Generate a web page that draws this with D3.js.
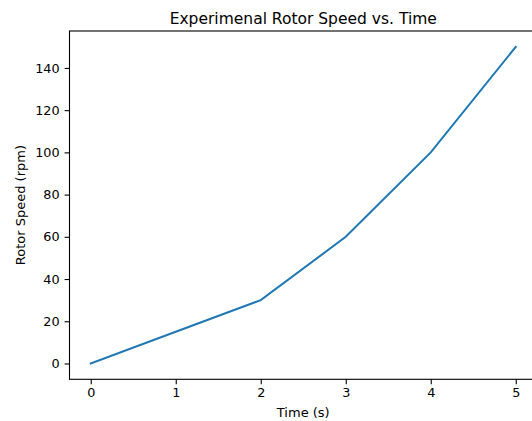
<!DOCTYPE html>
<html><head><meta charset="utf-8">
<script src="https://cdn.jsdelivr.net/npm/d3@7"></script>
<style>body{margin:0;background:#fff;} svg{display:block;font-family:"DejaVu Sans",sans-serif;}</style>
</head><body><svg id="c" width="532" height="421"></svg>
<script>
const times = [0, 1, 2, 3, 4, 5];
const speeds = [0, 15, 30, 60, 100, 150];
const xTicks = [0, 1, 2, 3, 4, 5];
const yTicks = [0, 20, 40, 60, 80, 100, 120, 140];
const title = "Experimenal Rotor Speed vs. Time";
const xLabel = "Time (s)";
const yLabel = "Rotor Speed (rpm)";

const svg = d3.select("#c");
const L = 69.5, R = 537, T = 31, B = 379.3;
const x = d3.scaleLinear().domain([-0.25, 5.25]).range([L, R]);
const y = d3.scaleLinear().domain([-7.5, 157.5]).range([B, T]);

svg.append("path")
  .datum(times.map((t, i) => [t, speeds[i]]))
  .attr("fill", "none").attr("stroke", "#1f77b4").attr("stroke-width", 2)
  .attr("stroke-linecap", "square")
  .attr("d", d3.line().x(d => x(d[0])).y(d => y(d[1])));

const xa = svg.append("g").attr("transform", `translate(0,${B})`)
  .call(d3.axisBottom(x).tickValues(xTicks).tickFormat(d3.format("d")).tickSizeInner(4.9).tickSizeOuter(0).tickPadding(4));
const ya = svg.append("g").attr("transform", `translate(${L},0)`)
  .call(d3.axisLeft(y).tickValues(yTicks).tickFormat(d3.format("d")).tickSizeInner(4.9).tickSizeOuter(0).tickPadding(5));
[xa, ya].forEach(a => {
  a.select(".domain").remove();
  a.selectAll("line").attr("stroke", "#000").attr("stroke-width", 1.1);
  a.selectAll("text").attr("fill", "#000").style("font-size", "12.8px").style("font-family", "DejaVu Sans");
});

// spines
svg.append("rect").attr("x", L).attr("y", T).attr("width", R - L).attr("height", B - T)
  .attr("fill", "none").attr("stroke", "#000").attr("stroke-width", 1.1);

svg.append("text").attr("x", (L + R) / 2).attr("y", 24).attr("text-anchor", "middle")
  .style("font-size", "15.5px").attr("fill", "#000").text(title);
svg.append("text").attr("x", (L + R) / 2).attr("y", 417).attr("text-anchor", "middle")
  .style("font-size", "13px").attr("fill", "#000").text(xLabel);
svg.append("text").attr("transform", `translate(25,${(T + B) / 2}) rotate(-90)`).attr("text-anchor", "middle")
  .style("font-size", "13px").attr("fill", "#000").text(yLabel);
</script></body></html>
